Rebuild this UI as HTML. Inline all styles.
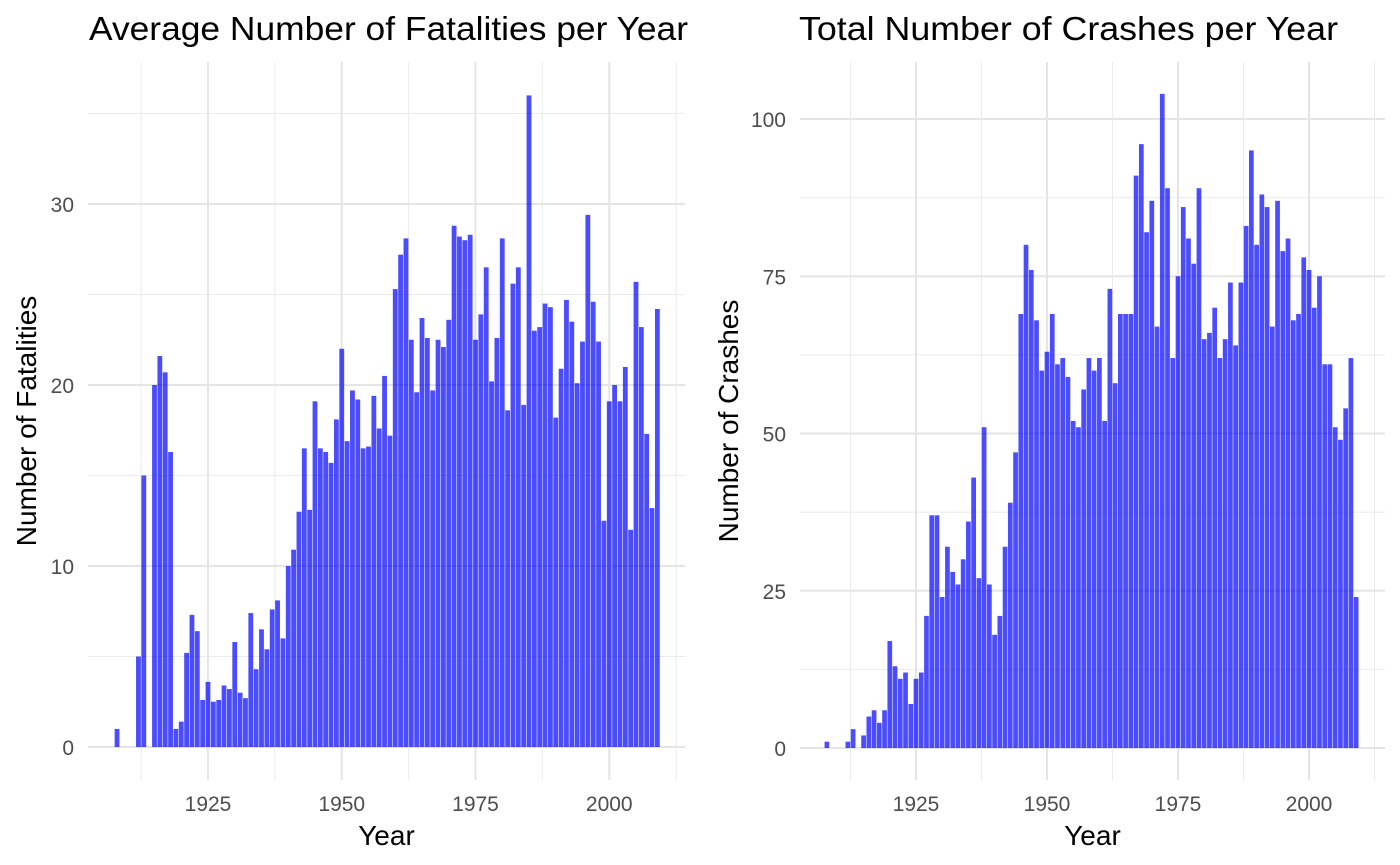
<!DOCTYPE html>
<html><head><meta charset="utf-8"><style>
body{margin:0;background:#fff;font-family:"Liberation Sans",Arial,sans-serif;}
svg{display:block}
</style></head><body>
<svg id="chart" width="1400" height="865"></svg>
<script>
const years1 = [1908,1912,1913,1915,1916,1917,1918,1919,1920,1921,1922,1923,1924,1925,1926,1927,1928,1929,1930,1931,1932,1933,1934,1935,1936,1937,1938,1939,1940,1941,1942,1943,1944,1945,1946,1947,1948,1949,1950,1951,1952,1953,1954,1955,1956,1957,1958,1959,1960,1961,1962,1963,1964,1965,1966,1967,1968,1969,1970,1971,1972,1973,1974,1975,1976,1977,1978,1979,1980,1981,1982,1983,1984,1985,1986,1987,1988,1989,1990,1991,1992,1993,1994,1995,1996,1997,1998,1999,2000,2001,2002,2003,2004,2005,2006,2007,2008,2009];
const fatalities = [1.0,5.0,15.0,20.0,21.6,20.7,16.3,1.0,1.4,5.2,7.3,6.4,2.6,3.6,2.5,2.6,3.4,3.2,5.8,3.0,2.7,7.4,4.3,6.5,5.4,7.6,8.1,6.0,10.0,10.9,13.0,16.5,13.1,19.1,16.5,16.3,15.7,18.1,22.0,16.9,19.7,19.2,16.5,16.6,19.4,17.6,20.5,17.2,25.3,27.2,28.1,22.5,19.6,23.7,22.6,19.7,22.5,22.1,23.6,28.8,28.2,28.0,28.3,22.5,23.9,26.5,20.2,22.6,28.1,18.6,25.6,26.5,18.9,36.0,23.0,23.2,24.5,24.3,18.2,20.9,24.7,23.5,20.1,22.4,29.4,24.6,22.4,12.5,19.1,20.0,19.1,21.0,12.0,25.7,23.2,17.3,13.2,24.2];
const crashes = [1,1,3,2,5,6,4,6,17,13,11,12,7,11,12,21,37,37,24,32,28,26,30,36,43,27,51,26,18,21,32,39,47,69,80,76,68,60,63,69,61,62,59,52,51,57,62,60,62,52,73,58,69,69,69,91,96,82,87,67,104,89,62,75,86,81,77,89,65,66,70,62,65,74,64,74,83,95,80,88,86,67,87,79,81,68,69,78,76,70,75,61,61,51,49,54,62,24];
const xTicks = [1925,1950,1975,2000];
const yTicksL = [0,10,20,30];
const yTicksR = [0,25,50,75,100];

const NS='http://www.w3.org/2000/svg';
const svg=document.getElementById('chart');
function el(tag,attrs,parent){const e=document.createElementNS(NS,tag);for(const k in attrs)e.setAttribute(k,attrs[k]);(parent||svg).appendChild(e);return e;}

function panel(cfg){
  const g=el('g',{});
  
  
  const X=y=>cfg.x0+(y-1925)*cfg.px;
  const Y=v=>cfg.y0-v*cfg.py;
  for(let yv=cfg.minorY0;yv<=cfg.ymaxGrid;yv+=cfg.ystep){
    const l=el('line',{x1:cfg.left,x2:cfg.right,y1:Y(yv),y2:Y(yv),stroke:'#ebebeb','stroke-width':1},g);
    
    
  }
  for(let yr=1912.5;yr<=2013;yr+=25){
    const l=el('line',{x1:X(yr),x2:X(yr),y1:cfg.top,y2:cfg.bottom,stroke:'#ebebeb','stroke-width':1},g);
    
    
  }
  cfg.yTicks.forEach(t=>{
    const l=el('line',{x1:cfg.left,x2:cfg.right,y1:Y(t),y2:Y(t),stroke:'#e5e5e5','stroke-width':2},g);
    
    
    const tx=el('text',{x:cfg.left-14,y:Y(t)+8,'text-anchor':'end','font-size':21,fill:'#4d4d4d'},g);
    tx.textContent=t;
    
    
  });
  xTicks.forEach(t=>{
    const l=el('line',{x1:X(t),x2:X(t),y1:cfg.top,y2:cfg.bottom,stroke:'#e5e5e5','stroke-width':2},g);
    
    
    const tx=el('text',{x:X(t),y:811,'text-anchor':'middle','font-size':21,fill:'#4d4d4d'},g);
    tx.textContent=t;
    
    
  });
  const w=cfg.px*0.9;
  years1.forEach((yr,i)=>{
    const v=cfg.values[i];
    const r=el('rect',{x:X(yr)-w/2,y:Y(v),width:w,height:Y(0)-Y(v),fill:'rgba(0,0,255,0.7)'},g);
    
    
  });
  const t=el('text',{x:cfg.titleX,y:40,'text-anchor':'start','font-size':33,fill:'#000',textLength:cfg.titleLen,lengthAdjust:'spacingAndGlyphs'},g);
  t.textContent=cfg.title;
  
  
  const xt=el('text',{x:(cfg.left+cfg.right)/2,y:845,'text-anchor':'middle','font-size':28,fill:'#000'},g);
  xt.textContent='Year';
  
  
  const cy=421;
  const yt=el('text',{x:cfg.yTitleX,y:cy,'text-anchor':'middle','font-size':28,fill:'#000',transform:`rotate(-90 ${cfg.yTitleX} ${cy})`},g);
  yt.textContent=cfg.ytitle;
  
  
}
panel({name:'fatalities-panel',values:fatalities,x0:208,px:5.35,y0:747,py:18.1,left:88,right:685,top:62,bottom:780,yTicks:yTicksL,minorY0:5,ystep:10,ymaxGrid:36,title:'Average Number of Fatalities per Year',titleX:89,titleLen:599,ytitle:'Number of Fatalities',yTitleX:36});
panel({name:'crashes-panel',values:crashes,x0:916,px:5.24,y0:748,py:6.29,left:800,right:1385,top:62,bottom:780,yTicks:yTicksR,minorY0:12.5,ystep:25,ymaxGrid:108,title:'Total Number of Crashes per Year',titleX:799,titleLen:539,ytitle:'Number of Crashes',yTitleX:738});
</script>
</body></html>
